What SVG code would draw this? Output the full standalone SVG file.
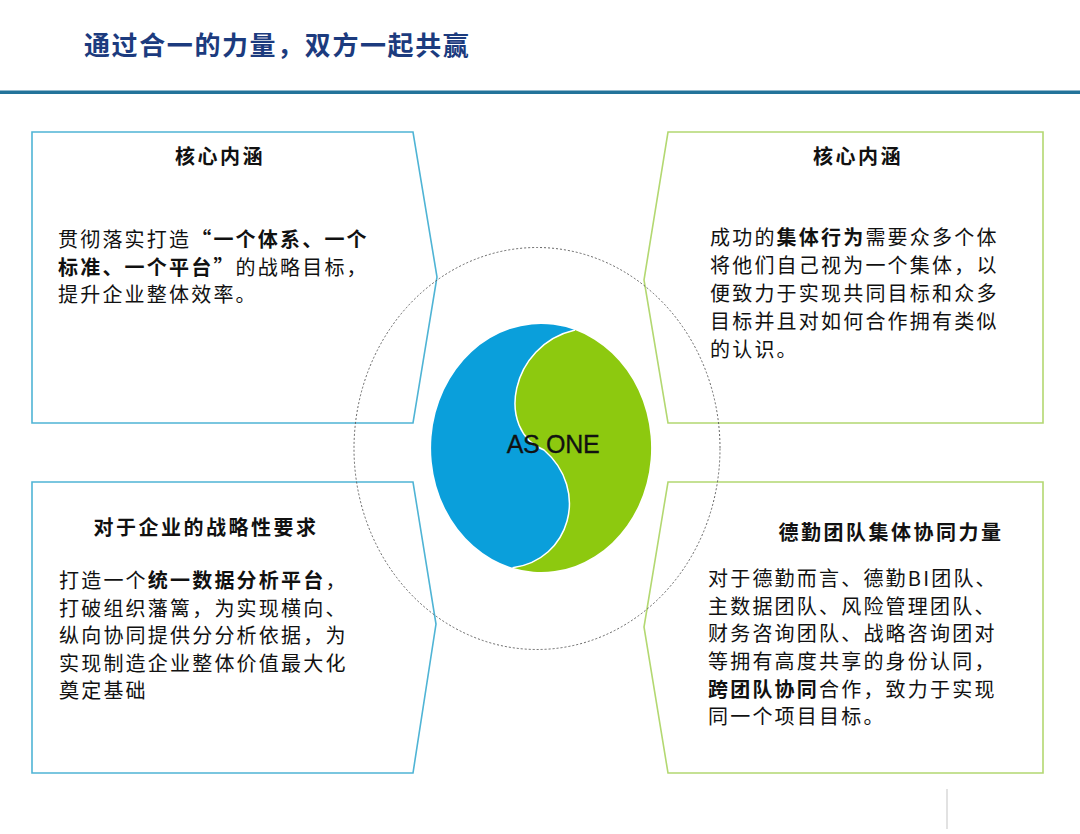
<svg xmlns="http://www.w3.org/2000/svg" width="1080" height="834" viewBox="0 0 1080 834">
<style>
.cjk{font-family:"Noto Sans CJK SC","Liberation Sans",sans-serif;fill:#111}
.hd{font-size:20px;font-weight:700;letter-spacing:2.5px}
.bd{font-size:20px;letter-spacing:2.2px}
.b{font-weight:700}
.bbox{fill:none;stroke:#4fb4d5;stroke-width:1.6}
.gbox{fill:none;stroke:#b3d871;stroke-width:1.6}
</style>
<rect width="1080" height="834" fill="#fff"/>
<g id="header">
<text x="84" y="55" font-family="Noto Sans CJK SC, Liberation Sans, sans-serif" font-size="26" font-weight="700" letter-spacing="1.6" fill="#1c3b7e">通过合一的力量，双方一起共赢</text>
<rect x="0" y="90.5" width="1080" height="3.5" fill="#23739a"/>
</g>
<g id="box-top-left">
<polygon class="bbox" points="32,132 413,132 437,277 413,423 32,423"/>
<text class="cjk hd" x="220" y="164" text-anchor="middle">核心内涵</text>
<text class="cjk bd" x="58" y="247">贯彻落实打造</text>
<text class="cjk bd b" x="191.2" y="247">“一个体系、一个</text>
<text class="cjk bd b" x="58" y="274.5">标准、一个平台”</text>
<text class="cjk bd" x="235.6" y="274.5">的战略目标，</text>
<text class="cjk bd" x="58" y="302">提升企业整体效率。</text>
</g>
<g id="box-top-right">
<polygon class="gbox" points="668,132 1043,132 1043,423 668,423 644,280"/>
<text class="cjk hd" x="858" y="164" text-anchor="middle">核心内涵</text>
<text class="cjk bd" x="710" y="245">成功的</text>
<text class="cjk bd b" x="776.6" y="245">集体行为</text>
<text class="cjk bd" x="865.4" y="245">需要众多个体</text>
<text class="cjk bd" x="710" y="273">将他们自己视为一个集体，以</text>
<text class="cjk bd" x="710" y="301">便致力于实现共同目标和众多</text>
<text class="cjk bd" x="710" y="329">目标并且对如何合作拥有类似</text>
<text class="cjk bd" x="710" y="357">的认识。</text>
</g>
<g id="box-bottom-left">
<polygon class="bbox" points="32,482 413,482 436,624 413,773 32,773"/>
<text class="cjk hd" x="206" y="535" text-anchor="middle">对于企业的战略性要求</text>
<text class="cjk bd" x="59" y="588">打造一个</text>
<text class="cjk bd b" x="147.8" y="588">统一数据分析平台</text>
<text class="cjk bd" x="325.4" y="588">，</text>
<text class="cjk bd" x="59" y="615.5">打破组织藩篱，为实现横向、</text>
<text class="cjk bd" x="59" y="643">纵向协同提供分分析依据，为</text>
<text class="cjk bd" x="59" y="670.5">实现制造企业整体价值最大化</text>
<text class="cjk bd" x="59" y="698">奠定基础</text>
</g>
<g id="box-bottom-right">
<polygon class="gbox" points="668,482 1043,482 1043,773 668,773 644,627"/>
<text class="cjk hd" x="891" y="540" text-anchor="middle">德勤团队集体协同力量</text>
<text class="cjk bd" x="708" y="586">对于德勤而言、德勤BI团队、</text>
<text class="cjk bd" x="708" y="613.5">主数据团队、风险管理团队、</text>
<text class="cjk bd" x="708" y="641">财务咨询团队、战略咨询团对</text>
<text class="cjk bd" x="708" y="669">等拥有高度共享的身份认同，</text>
<text class="cjk bd b" x="708" y="696.5">跨团队协同</text>
<text class="cjk bd" x="819" y="696.5">合作，致力于实现</text>
<text class="cjk bd" x="708" y="724">同一个项目目标。</text>
</g>
<g id="as-one">
<path d="M575,330.1 A110,124 0 1 0 512.5,567.8 C570,560 590,490 544,450 C495,430 510,345 575,330.1 Z" fill="#0a9fdb"/>
<path d="M575,330.1 A110,124 0 0 1 512.5,567.8 C570,560 590,490 544,450 C495,430 510,345 575,330.1 Z" fill="#8dc90f"/>
<path d="M575,330.1 C510,345 495,430 544,450 C590,490 570,560 512.5,567.8" fill="none" stroke="#fff" stroke-width="1.5"/>
<text x="553" y="453" text-anchor="middle" font-family="Liberation Sans, Arial, sans-serif" font-size="25" letter-spacing="-0.3" fill="#111" stroke="#111" stroke-width="0.3">AS ONE</text>
</g>
<g id="connectors">
<ellipse cx="537" cy="448.5" rx="183" ry="201" fill="none" stroke="#555" stroke-width="0.9" stroke-dasharray="2 2"/>
</g>
<line x1="947" y1="789" x2="947" y2="829" stroke="#cfcfcf" stroke-width="1.2"/>
</svg>
